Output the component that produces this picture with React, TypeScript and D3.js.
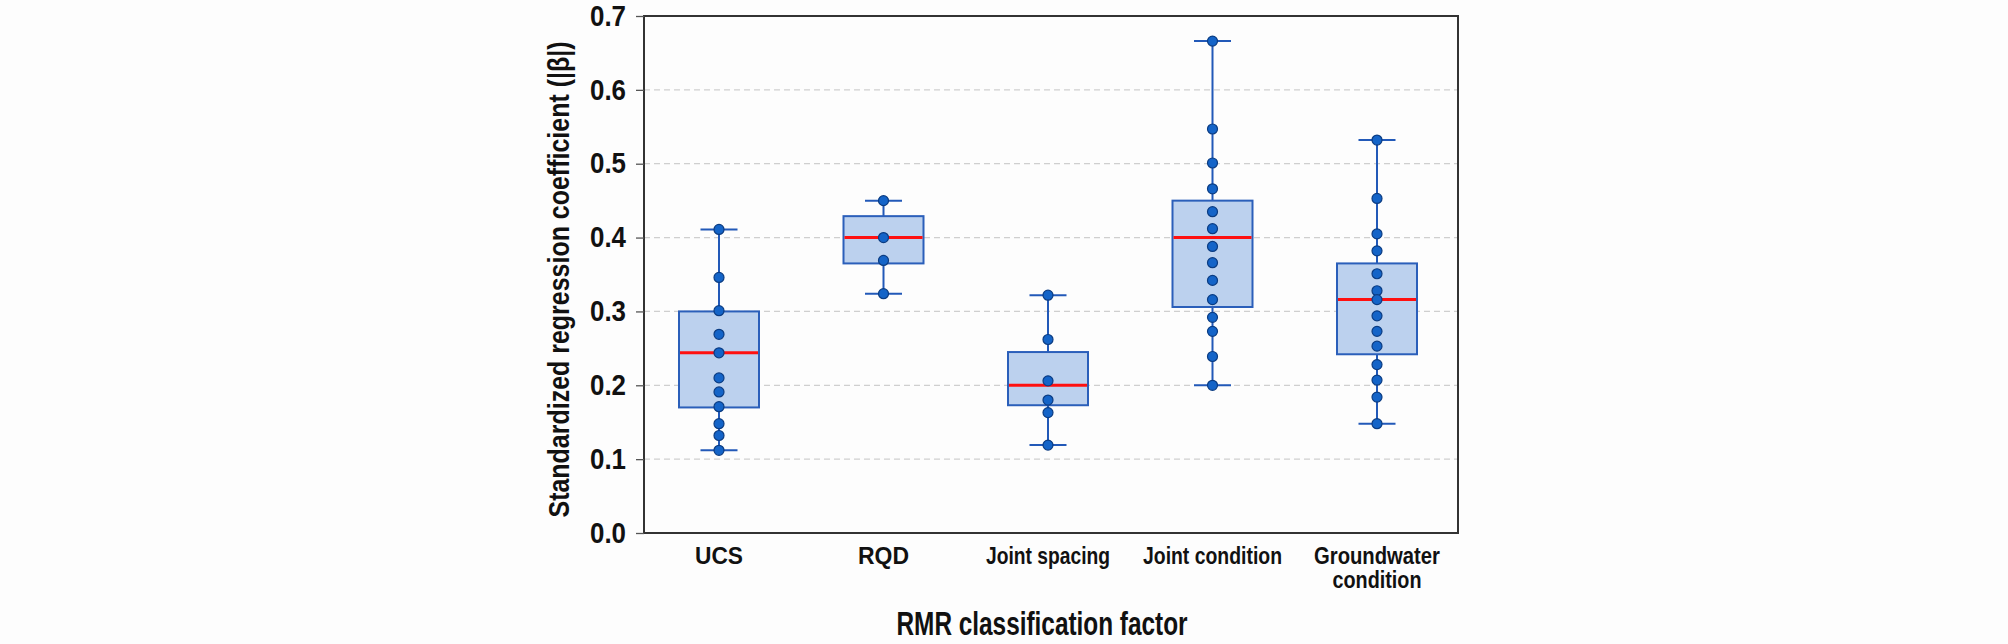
import * as d3 from 'd3';
import { useEffect, useRef } from 'react';

const categories = ['UCS', 'RQD', 'Joint spacing', 'Joint condition', 'Groundwater condition'];
const categoryLines = [['UCS'], ['RQD'], ['Joint spacing'], ['Joint condition'], ['Groundwater', 'condition']];
const lowerWhisker = [0.112, 0.324, 0.119, 0.2, 0.148];
const q1 = [0.17, 0.365, 0.173, 0.306, 0.242];
const median = [0.244, 0.4, 0.2, 0.4, 0.316];
const q3 = [0.3, 0.429, 0.245, 0.45, 0.365];
const upperWhisker = [0.411, 0.45, 0.322, 0.666, 0.532];

const ucsPoints = [0.411, 0.346, 0.301, 0.269, 0.244, 0.21, 0.191, 0.171, 0.148, 0.132, 0.112];
const rqdPoints = [0.45, 0.4, 0.369, 0.324];
const jointSpacingPoints = [0.322, 0.262, 0.206, 0.18, 0.163, 0.119];
const jointConditionPoints = [0.666, 0.547, 0.501, 0.466, 0.435, 0.412, 0.388, 0.366, 0.342, 0.316, 0.292, 0.273, 0.239, 0.2];
const groundwaterPoints = [0.532, 0.453, 0.405, 0.382, 0.351, 0.328, 0.316, 0.294, 0.273, 0.253, 0.228, 0.207, 0.184, 0.148];
const pointSets = [ucsPoints, rqdPoints, jointSpacingPoints, jointConditionPoints, groundwaterPoints];

const yTicks = [0, 0.1, 0.2, 0.3, 0.4, 0.5, 0.6, 0.7];

// the original uses a condensed bold face; Liberation Sans is squeezed to its widths
const FONT = '"Liberation Sans", Arial, sans-serif';
const labelWidth: Record<string, number> = {
  UCS: 48,
  RQD: 51,
  'Joint spacing': 124,
  'Joint condition': 139,
  Groundwater: 126,
  condition: 89,
};

const BoxPlot = () => {
  const ref = useRef<SVGSVGElement>(null);

  useEffect(() => {
    const svg = d3.select(ref.current);
    svg.selectAll('*').remove();

    const W = 2008;
    const H = 644;
    const margin = { top: 16, right: 550, bottom: 111, left: 644 };
    const width = W - margin.left - margin.right;
    const height = H - margin.top - margin.bottom;

    const x = d3.scalePoint<string>().domain(categories).range([75, width - 81]);
    const y = d3.scaleLinear().domain([0, 0.7]).range([height, 0]);

    svg.append('rect').attr('width', W).attr('height', H).attr('fill', '#fdfdfd');

    const chart = svg.append('g').attr('transform', `translate(${margin.left},${margin.top})`);

    // dashed grid
    chart.append('g')
      .selectAll('line')
      .data(yTicks.filter(t => t > 0 && t < 0.7))
      .enter()
      .append('line')
      .attr('x1', 0)
      .attr('x2', width)
      .attr('y1', d => y(d))
      .attr('y2', d => y(d))
      .attr('stroke', '#cfcfcf')
      .attr('stroke-width', 1.3)
      .attr('stroke-dasharray', '6,4');

    // frame
    chart.append('rect')
      .attr('width', width)
      .attr('height', height)
      .attr('fill', 'none')
      .attr('stroke', '#333')
      .attr('stroke-width', 2);

    const yAxis = chart.append('g').call(
      d3.axisLeft(y).tickValues(yTicks).tickFormat(d3.format('.1f')).tickSize(8).tickPadding(10)
    );
    yAxis.select('.domain').remove();
    yAxis.selectAll('.tick line').attr('stroke', '#555').attr('stroke-width', 1.3);
    yAxis.selectAll('.tick text')
      .attr('font-family', FONT)
      .attr('font-weight', 'bold')
      .attr('font-size', 29)
      .attr('textLength', 36)
      .attr('lengthAdjust', 'spacingAndGlyphs')
      .attr('fill', '#111');

    const boxW = 80;
    const capW = 37;

    categories.forEach((c, i) => {
      const cx = x(c)!;
      const g = chart.append('g');
      g.append('line')
        .attr('x1', cx).attr('x2', cx)
        .attr('y1', y(lowerWhisker[i])).attr('y2', y(upperWhisker[i]))
        .attr('stroke', '#2259b8').attr('stroke-width', 2);
      [lowerWhisker[i], upperWhisker[i]].forEach(v => {
        g.append('line')
          .attr('x1', cx - capW / 2).attr('x2', cx + capW / 2)
          .attr('y1', y(v)).attr('y2', y(v))
          .attr('stroke', '#2259b8').attr('stroke-width', 2);
      });
      g.append('rect')
        .attr('x', cx - boxW / 2)
        .attr('y', y(q3[i]))
        .attr('width', boxW)
        .attr('height', y(q1[i]) - y(q3[i]))
        .attr('fill', '#bcd1ee')
        .attr('stroke', '#2b5fba')
        .attr('stroke-width', 2);
      g.append('line')
        .attr('x1', cx - boxW / 2 + 1).attr('x2', cx + boxW / 2 - 1)
        .attr('y1', y(median[i])).attr('y2', y(median[i]))
        .attr('stroke', '#ff1010').attr('stroke-width', 3);
      g.selectAll('circle')
        .data(pointSets[i])
        .enter()
        .append('circle')
        .attr('cx', cx)
        .attr('cy', d => y(d))
        .attr('r', 5)
        .attr('fill', '#1464c8')
        .attr('stroke', '#0b3c82')
        .attr('stroke-width', 1.2);
    });

    // category labels
    categories.forEach((c, i) => {
      categoryLines[i].forEach((l, k) => {
        chart.append('text')
          .attr('x', x(c)!)
          .attr('y', height + 31 + k * 24)
          .attr('text-anchor', 'middle')
          .attr('font-family', FONT)
          .attr('font-weight', 'bold')
          .attr('font-size', 24)
          .attr('textLength', labelWidth[l])
          .attr('lengthAdjust', 'spacingAndGlyphs')
          .attr('fill', '#111')
          .text(l);
      });
    });

    chart.append('text')
      .attr('x', width / 2 - 9)
      .attr('y', height + 102)
      .attr('text-anchor', 'middle')
      .attr('font-family', FONT)
      .attr('font-weight', 'bold')
      .attr('font-size', 34)
      .attr('textLength', 291)
      .attr('lengthAdjust', 'spacingAndGlyphs')
      .attr('fill', '#111')
      .text('RMR classification factor');

    chart.append('text')
      .attr('transform', `translate(${-75},${height / 2 + 5}) rotate(-90)`)
      .attr('text-anchor', 'middle')
      .attr('font-family', FONT)
      .attr('font-weight', 'bold')
      .attr('font-size', 29)
      .attr('textLength', 476)
      .attr('lengthAdjust', 'spacingAndGlyphs')
      .attr('fill', '#111')
      .text('Standardized regression coefficient (|β|)');
  }, []);

  return <svg ref={ref} width={2008} height={644} style={{ position: 'absolute', left: 0, top: 0 }} />;
};

export default function App() {
  return <BoxPlot />;
}
